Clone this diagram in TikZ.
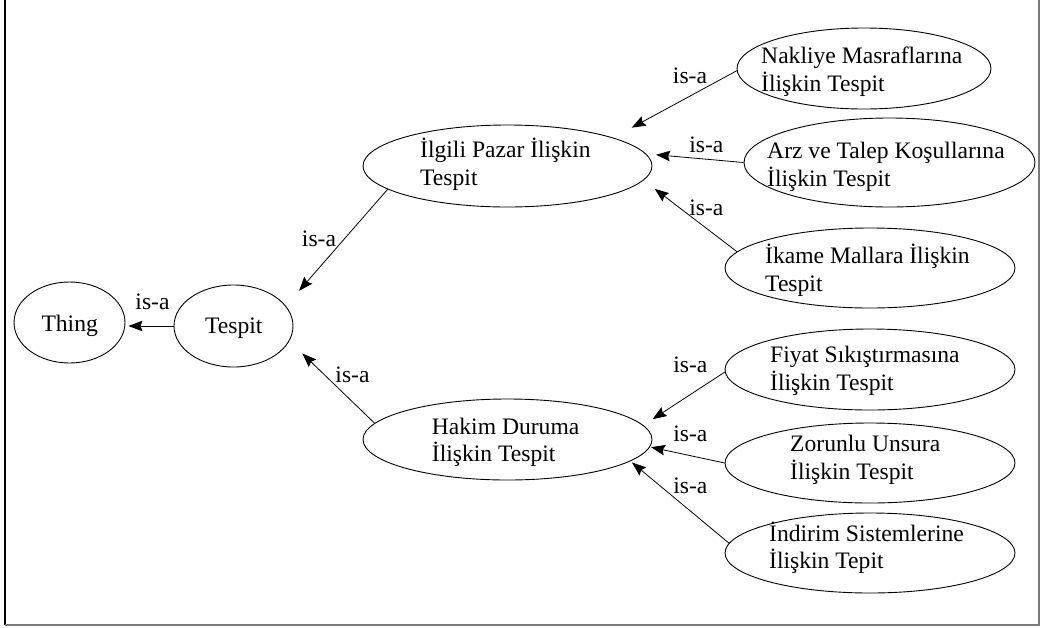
\documentclass[tikz,border=0pt]{standalone}
\usepackage{fontspec}
\setmainfont{Liberation Serif}
\usetikzlibrary{arrows.meta,shapes.geometric}
\definecolor{framegray}{HTML}{7A7A7A}
\newcommand{\twolines}[2]{\begin{tabular}[t]{@{}l@{}}#1\\#2\end{tabular}}
\begin{document}
\begin{tikzpicture}[x=1pt,y=-1pt,
  concept/.style={draw, ellipse, line width=0.9pt, inner sep=0pt},
  ctext/.style={inner sep=0pt, font=\fontsize{23.6}{27.8}\selectfont},
  isa/.style={draw, line width=0.8pt, -{Stealth[length=14pt,width=10.5pt,inset=2pt]}},
  isalabel/.style={anchor=base, inner sep=0pt, font=\fontsize{23.6}{27.8}\selectfont}]
\useasboundingbox (0,0) rectangle (1046,627);

% frame
\draw[line width=2pt, black] (4.5,0) -- (4.5,625);
\draw[line width=2pt, framegray] (4.5,625) -- (1039.2,625) -- (1039.2,0);

% concepts
\node[concept, minimum width=111pt, minimum height=81pt] (thing) at (69.5,322.5) {};
\node[concept, minimum width=119pt, minimum height=82pt] (tespit) at (233.5,326) {};
\node[concept, minimum width=289pt, minimum height=82pt] (ilgili) at (507.5,166) {};
\node[concept, minimum width=289pt, minimum height=81pt] (hakim) at (507.5,439.5) {};
\node[concept, minimum width=254pt, minimum height=81pt] (nakliye) at (864,68.5) {};
\node[concept, minimum width=291pt, minimum height=89pt] (arz) at (889.5,162.5) {};
\node[concept, minimum width=290pt, minimum height=80pt] (ikame) at (870,268) {};
\node[concept, minimum width=290pt, minimum height=81pt] (fiyat) at (870,369.5) {};
\node[concept, minimum width=290pt, minimum height=80pt] (zorunlu) at (870,463) {};
\node[concept, minimum width=290pt, minimum height=80pt] (indirim) at (870,553) {};

% concept names
\node[ctext, anchor=base] (thing-txt) at (69.7,331.7) {Thing};
\node[ctext, anchor=base] (tespit-txt) at (233.8,333.3) {Tespit};
\node[ctext, anchor=base west] (ilgili-txt) at (420,157.7) {\twolines{İlgili Pazar İlişkin}{Tespit}};
\node[ctext, anchor=base west] (hakim-txt) at (431.7,434) {\twolines{Hakim Duruma}{İlişkin Tespit}};
\node[ctext, anchor=base west] (nakliye-txt) at (761,63.3) {\twolines{Nakliye Masraflarına}{İlişkin Tespit}};
\node[ctext, anchor=base west] (arz-txt) at (767,158.3) {\twolines{Arz ve Talep Koşullarına}{İlişkin Tespit}};
\node[ctext, anchor=base west] (ikame-txt) at (765,263.3) {\twolines{İkame Mallara İlişkin}{Tespit}};
\node[ctext, anchor=base west] (fiyat-txt) at (770,362.7) {\twolines{Fiyat Sıkıştırmasına}{İlişkin Tespit}};
\node[ctext, anchor=base west] (zorunlu-txt) at (790,451.7) {\twolines{Zorunlu Unsura}{İlişkin Tespit}};
\node[ctext, anchor=base west] (indirim-txt) at (769,541) {\twolines{İndirim Sistemlerine}{İlişkin Tepit}};

% is-a relations
\draw[isa, shorten >=3pt] (tespit.west) -- (thing.east |- tespit.west)
  node[isalabel] (l-tespit) at (152.5,309.3) {is-a};
\draw[isa, shorten >=20pt] (ilgili.191.8) -- (tespit.21.5)
  node[isalabel] (l-ilgili) at (319,246) {is-a};
\draw[isa, shorten >=18pt] (hakim.173.2) -- (tespit.-15.5)
  node[isalabel] (l-hakim) at (352.5,382.7) {is-a};
\draw[isa, shorten >=21pt] (nakliye.181.4) -- (ilgili.15.7)
  node[isalabel] (l-nakliye) at (690,83.3) {is-a};
\draw[isa, shorten >=10pt] (arz.180) -- (ilgili.5.8)
  node[isalabel] (l-arz) at (706.3,152.7) {is-a};
\draw[isa, shorten >=14pt] (ikame.173.5) -- (ilgili.-6)
  node[isalabel] (l-ikame) at (706.3,215) {is-a};
\draw[isa, shorten >=11pt] (fiyat.181.5) -- (hakim.6.9)
  node[isalabel] (l-fiyat) at (690.3,372.3) {is-a};
\draw[isa, shorten >=1pt] (zorunlu.180) -- (hakim.-3)
  node[isalabel] (l-zorunlu) at (690.3,441) {is-a};
\draw[isa, shorten >=2pt] (indirim.176) -- (hakim.-10)
  node[isalabel] (l-indirim) at (690.3,493.3) {is-a};
\end{tikzpicture}
\end{document}
